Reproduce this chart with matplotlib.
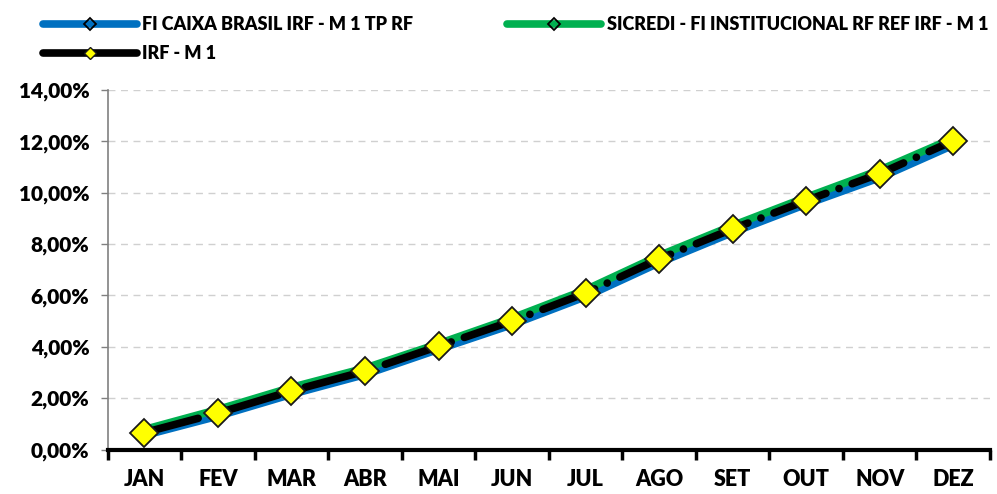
import matplotlib.pyplot as plt
from matplotlib.lines import Line2D
from matplotlib.ticker import FuncFormatter, FixedLocator, NullFormatter

plt.rcParams['font.family'] = ['Lato', 'DejaVu Sans']
plt.rcParams['font.weight'] = 'heavy'
plt.rcParams['lines.scale_dashes'] = False

meses = ['JAN', 'FEV', 'MAR', 'ABR', 'MAI', 'JUN', 'JUL', 'AGO', 'SET', 'OUT', 'NOV', 'DEZ']
caixa = [0.55, 1.30, 2.15, 2.92, 3.90, 4.86, 5.95, 7.27, 8.45, 9.55, 10.58, 11.85]
sicredi = [0.78, 1.56, 2.42, 3.17, 4.12, 5.12, 6.22, 7.55, 8.72, 9.82, 10.88, 12.12]
irfm1 = [0.66, 1.42, 2.28, 3.05, 4.02, 5.00, 6.09, 7.42, 8.59, 9.69, 10.74, 12.02]
nomes = ['FI CAIXA BRASIL IRF - M 1 TP RF',
         'SICREDI - FI INSTITUCIONAL RF REF IRF - M 1',
         'IRF - M 1']

fig = plt.figure(figsize=(9.97, 4.94), dpi=100)
ax = fig.add_axes([0.108, 0.09, 0.885, 0.728])

dash = (0, (40, 10, 0.1, 10))
x = list(range(len(meses)))
ax.plot(x, caixa, color='#0070C0', lw=5.5, solid_capstyle='round', zorder=3)
ax.plot(x, sicredi, color='#00B050', lw=5.5, solid_capstyle='round', zorder=3)
ax.plot(x, irfm1, color='black', lw=5.5, dash_capstyle='round', linestyle=dash,
        marker='D', ms=14, mfc='#FFFF00', mec='#1a1a1a', mew=1.3, zorder=4)

ax.set_xlim(-0.5, 11.5)
ax.set_ylim(0, 14)
ax.set_yticks(range(0, 15, 2))
ax.yaxis.set_major_formatter(FuncFormatter(lambda v, p: f'{v:.2f}%'.replace('.', ',')))
ax.xaxis.set_major_locator(FixedLocator([i - 0.5 for i in range(13)]))
ax.xaxis.set_major_formatter(NullFormatter())
ax.xaxis.set_minor_locator(FixedLocator(x))
ax.set_xticklabels(meses, minor=True)
ax.tick_params(axis='x', which='major', length=7, width=2.5, color='black', direction='out')
ax.tick_params(axis='x', which='minor', length=0, labelsize=15.5, pad=14)
ax.tick_params(axis='y', length=5, width=1, color='#808080', labelsize=15, pad=8)

ax.grid(axis='y', color='#D0D0D0', linestyle=(0, (5, 4)), linewidth=1)
ax.set_axisbelow(True)
for s in ['top', 'right']:
    ax.spines[s].set_visible(False)
ax.spines['left'].set_color('#808080')
ax.spines['left'].set_linewidth(1.2)
ax.spines['bottom'].set_color('black')
ax.spines['bottom'].set_linewidth(3)

# legend proxies with small markers, ordered column-wise
h_caixa = Line2D([], [], color='#0070C0', lw=5.5, solid_capstyle='round',
                 marker='D', ms=6, mfc='none', mec='black', mew=1.3)
h_sicredi = Line2D([], [], color='#00B050', lw=5.5, solid_capstyle='round',
                   marker='D', ms=6, mfc='none', mec='black', mew=1.3)
h_irf = Line2D([], [], color='black', lw=5.5, solid_capstyle='round',
               marker='D', ms=6, mfc='#FFFF00', mec='#1a1a1a', mew=1)
fig.legend([h_caixa, h_irf, h_sicredi], [nomes[0], nomes[2], nomes[1]],
           loc='upper left', bbox_to_anchor=(0.027, 1.0), ncol=2, frameon=False,
           fontsize=13, handlelength=5.2, columnspacing=5.2, handletextpad=0.3,
           labelspacing=0.65)

plt.savefig('out.png', dpi=100)
